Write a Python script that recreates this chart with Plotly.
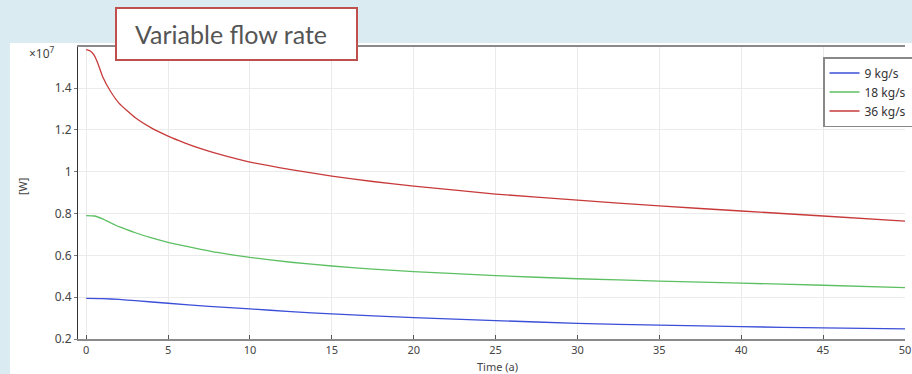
import plotly.graph_objects as go

# Time (a)
t_9 = [0, 1, 2, 3, 5, 7.5, 10, 12.5, 15, 20, 25, 30, 35, 40, 45, 50]
p_9 = [0.394, 0.393, 0.389, 0.383, 0.371, 0.356, 0.344, 0.331, 0.320, 0.302,
       0.288, 0.275, 0.266, 0.259, 0.253, 0.248]

t_18 = [0, 0.5, 1, 1.5, 2, 3, 4, 5, 6, 7, 8, 10, 12.5, 15, 17.5, 20, 25, 30, 35, 40, 45, 50]
p_18 = [0.790, 0.788, 0.774, 0.755, 0.737, 0.708, 0.683, 0.662, 0.645, 0.629, 0.614,
        0.590, 0.567, 0.549, 0.534, 0.522, 0.503, 0.488, 0.477, 0.467, 0.457, 0.446]

t_36 = [0, 0.25, 0.5, 0.75, 1, 1.5, 2, 3, 4, 5, 6, 7, 8, 10, 12.5, 15, 17.5, 20,
        25, 30, 35, 40, 45, 50]
p_36 = [1.583, 1.577, 1.555, 1.510, 1.455, 1.382, 1.328, 1.258, 1.208, 1.170, 1.138,
        1.110, 1.086, 1.046, 1.010, 0.979, 0.953, 0.931, 0.893, 0.864, 0.836, 0.812,
        0.788, 0.764]

series_names = ["9 kg/s", "18 kg/s", "36 kg/s"]
series_colors = ["#3b4fd8", "#5cbf62", "#c83a3a"]

x_ticks = [0, 5, 10, 15, 20, 25, 30, 35, 40, 45, 50]
y_ticks = [0.2, 0.4, 0.6, 0.8, 1.0, 1.2, 1.4]
y_tick_text = ["0.2", "0.4", "0.6", "0.8", "1", "1.2", "1.4"]

W, H = 912, 374
L, R, T, B = 78, 905, 47, 339
pw, ph = R - L, B - T


def px(x):
    return (x - L) / pw


def py(y):
    return (B - y) / ph


fig = go.Figure()
for tx, ty, nm, col in zip([t_9, t_18, t_36], [p_9, p_18, p_36], series_names, series_colors):
    fig.add_trace(go.Scatter(x=tx, y=ty, name=nm, mode="lines",
                             line=dict(color=col, width=1.3, shape="spline", smoothing=0.5)))

font = "Noto Sans"
fig.update_layout(
    width=W, height=H,
    margin=dict(l=L, r=W - R, t=T, b=H - B, autoexpand=False),
    paper_bgcolor="#daecf2",
    plot_bgcolor="white",
    font=dict(family=font, size=11, color="#444"),
    showlegend=True,
    legend=dict(x=px(823), y=py(57), xanchor="left", yanchor="top",
                bgcolor="white", bordercolor="#888", borderwidth=1.5,
                font=dict(size=12, color="#333"), tracegroupgap=0,
                itemwidth=30),
    xaxis=dict(range=[-0.5, 50], tickvals=x_ticks, showgrid=True, gridcolor="#ebebeb",
               zeroline=False, showline=True, linecolor="#8a8a8a", linewidth=2,
               mirror=True, ticks="inside", ticklen=4, tickcolor="#555", automargin=False,
               tickfont=dict(size=11, color="#444")),
    yaxis=dict(range=[0.2, 1.596], tickvals=y_ticks, ticktext=y_tick_text, showgrid=True,
               gridcolor="#ebebeb", zeroline=False, showline=True, linecolor="#333",
               linewidth=1, ticks="outside", ticklen=3, tickcolor="#777", automargin=False,
               tickfont=dict(size=12, color="#444")),
    shapes=[
        dict(type="rect", xref="paper", yref="paper", x0=px(10), x1=px(912), y0=py(374),
             y1=py(43), fillcolor="white", line=dict(width=0), layer="below"),
        dict(type="rect", xref="paper", yref="paper", x0=px(116), x1=px(357), y0=py(60),
             y1=py(8), fillcolor="white", line=dict(color="#c0504d", width=2), layer="above"),
    ],
    annotations=[
        dict(text="Variable flow rate", xref="paper", yref="paper", x=px(231), y=py(34),
             xanchor="center", yanchor="middle", showarrow=False,
             font=dict(family="Lato", size=25, color="#555")),
        dict(text="×10<sup>7</sup>", xref="paper", yref="paper", x=px(27), y=py(53),
             xanchor="left", yanchor="middle", showarrow=False,
             font=dict(size=12, color="#444")),
        dict(text="[W]", xref="paper", yref="paper", x=px(22), y=py(187), textangle=-90,
             xanchor="center", yanchor="middle", showarrow=False,
             font=dict(size=11, color="#444")),
        dict(text="Time (a)", xref="paper", yref="paper", x=px(497), y=py(366),
             xanchor="center", yanchor="middle", showarrow=False,
             font=dict(size=11, color="#444")),
    ],
)

fig.write_html("out.html")
